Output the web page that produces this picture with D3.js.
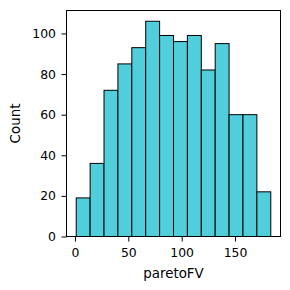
<!DOCTYPE html>
<html lang="en">
<head>
    <meta charset="UTF-8">
    <script src="https://d3js.org/d3.v7.min.js"></script>
    <title>paretoFV histogram</title>
    <style>
        body { margin: 0; background: #fff; }
        svg text { font-family: "DejaVu Sans", sans-serif; fill: #000; }
        .tick text { font-size: 12.4px; }
        .label { font-size: 13.4px; }
        .bar { fill: #51cedb; stroke: #000; stroke-width: 1px; }
    </style>
</head>
<body>
    <svg width="290" height="290"></svg>
    <script>
        // bin edges (paretoFV) and counts per bin
        const binEdges = [1.2, 14.22, 27.24, 40.26, 53.28, 66.3, 79.32, 92.34, 105.36, 118.38, 131.4, 144.42, 157.44, 170.46, 183.48];
        const counts = [19, 36, 72, 85, 93, 106, 99, 96, 99, 82, 95, 60, 60, 22];
        const xTicks = [0, 50, 100, 150];
        const yTicks = [0, 20, 40, 60, 80, 100];

        const plotL = 66.5, plotR = 280.5, plotT = 10.5, plotB = 236.5;
        const svg = d3.select("svg");

        const lo = binEdges[0], hi = binEdges[binEdges.length - 1];
        const pad = (hi - lo) * 0.05;
        const x = d3.scaleLinear().domain([lo - pad, hi + pad]).range([plotL, plotR]);
        const y = d3.scaleLinear().domain([0, d3.max(counts) * 1.05]).range([plotB, plotT]);

        svg.append("g").selectAll("rect")
            .data(counts)
            .enter().append("rect")
            .attr("class", "bar")
            .attr("x", (d, i) => x(binEdges[i]))
            .attr("width", (d, i) => x(binEdges[i + 1]) - x(binEdges[i]))
            .attr("y", d => y(d))
            .attr("height", d => y(0) - y(d));

        const xAxis = svg.append("g")
            .attr("transform", `translate(0,${plotB})`)
            .call(d3.axisBottom(x).tickValues(xTicks).tickSize(5).tickPadding(6.5).tickFormat(d3.format("d")));
        const yAxis = svg.append("g")
            .attr("transform", `translate(${plotL},0)`)
            .call(d3.axisLeft(y).tickValues(yTicks).tickSize(5).tickPadding(5.5).tickFormat(d3.format("d")));
        [xAxis, yAxis].forEach(g => {
            g.select(".domain").remove();
            g.selectAll("line").attr("stroke", "#000").attr("stroke-width", 1);
            g.selectAll("text").attr("font-family", null).attr("font-size", null);
        });

        // frame
        svg.append("rect")
            .attr("x", plotL).attr("y", plotT)
            .attr("width", plotR - plotL).attr("height", plotB - plotT)
            .attr("fill", "none").attr("stroke", "#000").attr("stroke-width", 1);

        svg.append("text")
            .attr("class", "label")
            .attr("x", (plotL + plotR) / 2).attr("y", 278)
            .attr("text-anchor", "middle")
            .text("paretoFV");
        svg.append("text")
            .attr("class", "label")
            .attr("transform", `translate(20,${(plotT + plotB) / 2}) rotate(-90)`)
            .attr("text-anchor", "middle")
            .text("Count");
    </script>
</body>
</html>
